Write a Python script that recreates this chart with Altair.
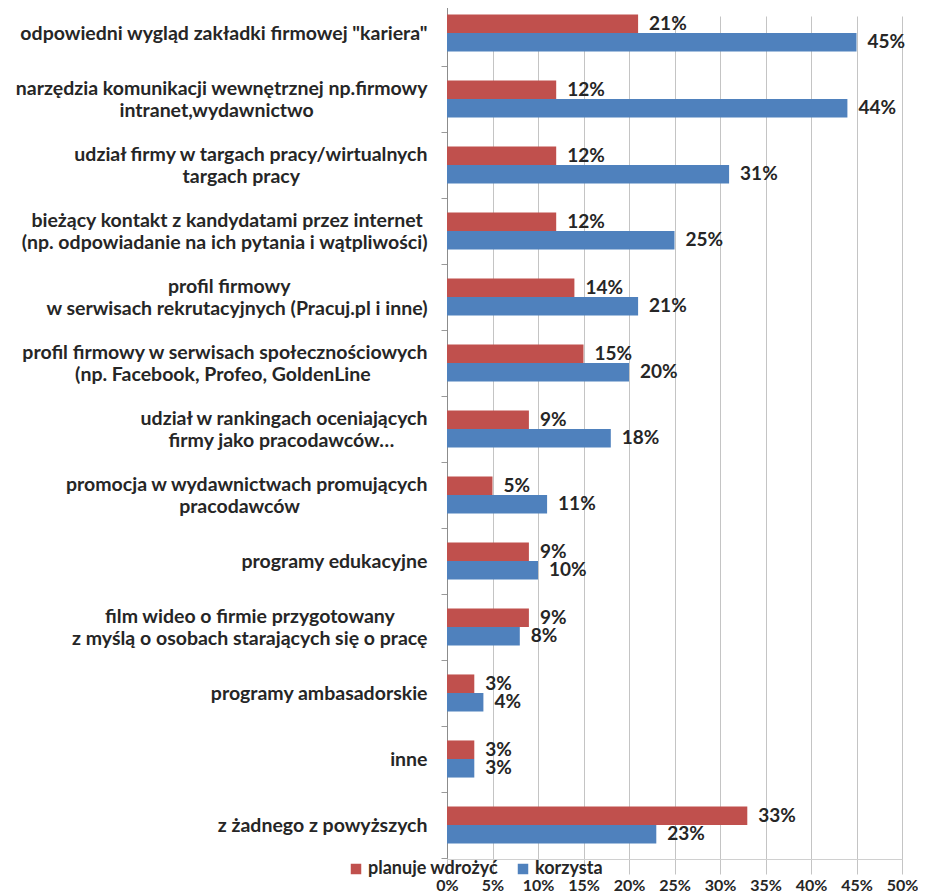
import altair as alt
import pandas as pd

# ---- data ----
categories = [
    'odpowiedni wygląd zakładki firmowej "kariera"',
    "narzędzia komunikacji wewnętrznej np.firmowy\nintranet,wydawnictwo",
    "udział firmy w targach pracy/wirtualnych\ntargach pracy",
    "bieżący kontakt z kandydatami przez internet\n(np. odpowiadanie na ich pytania i wątpliwości)",
    "profil firmowy\nw serwisach rekrutacyjnych (Pracuj.pl i inne)",
    "profil firmowy w serwisach społecznościowych\n(np. Facebook, Profeo, GoldenLine",
    "udział w rankingach oceniających\nfirmy jako pracodawców…",
    "promocja w wydawnictwach promujących\npracodawców",
    "programy edukacyjne",
    "film wideo o firmie przygotowany\nz myślą o osobach starających się o pracę",
    "programy ambasadorskie",
    "inne",
    "z żadnego z powyższych",
]
planuje = [21, 12, 12, 12, 14, 15, 9, 5, 9, 9, 3, 3, 33]
korzysta = [45, 44, 31, 25, 21, 20, 18, 11, 10, 8, 4, 3, 23]
series = ["planuje wdrożyć", "korzysta"]
x_ticks = [0, 5, 10, 15, 20, 25, 30, 35, 40, 45, 50]

# ---- style ----
FONT = "Lato"
FS_Y = 19.5
FS_V = 19
TXT = "#262626"
RED = "#C0504D"
BLUE = "#4F81BD"

# rough text-width estimate (em) so that wrapped label lines look centred
W = {" ": 0.193, "i": 0.25, "j": 0.25, "l": 0.25, ".": 0.24, ",": 0.24, "f": 0.33,
     "t": 0.36, "r": 0.37, "(": 0.3, ")": 0.3, "/": 0.37, '"': 0.4, "m": 0.84,
     "w": 0.78, "s": 0.43, "z": 0.45, "ż": 0.45, "c": 0.46, "ć": 0.46, "y": 0.51,
     "k": 0.52, "g": 0.5, "a": 0.51, "ą": 0.51, "…": 0.8}
NBSP_W = 0.222


def est(s):
    return sum(W.get(ch, 0.65 if ch.isupper() else 0.53) for ch in s)


def centre_lines(label):
    lines = label.split("\n")
    if len(lines) == 1:
        return label
    m = max(est(l) for l in lines)
    out = []
    for l in lines:
        n = int(round((m - est(l)) / 2 / NBSP_W))
        # trailing no-break spaces, closed by a zero-width space so they survive trimming
        out.append(l + ("\u00a0" * n + "\u200b" if n else ""))
    return "\n".join(out)


cat_labels = [centre_lines(c) for c in categories]

rows = []
for c, p, k in zip(cat_labels, planuje, korzysta):
    rows.append({"cat": c, "series": series[0], "value": p})
    rows.append({"cat": c, "series": series[1], "value": k})
df = pd.DataFrame(rows)

y_enc = alt.Y(
    "cat:N",
    sort=cat_labels,
    scale=alt.Scale(range=[-15, 843], paddingInner=0, paddingOuter=0),
    axis=alt.Axis(
        title=None,
        labelExpr="split(datum.label, '\\n')",
        labelFont=FONT,
        labelFontSize=FS_Y,
        labelFontWeight="bold",
        labelColor=TXT,
        labelLineHeight=22,
        labelLimit=0,
        labelPadding=14,
        labelOffset={"condition": {"test": "indexof(datum.label, '\\n') >= 0",
                                   "value": -11}, "value": 0},
        tickBand="extent",
        tickSize=6,
        tickColor="#9a9a9a",
        domainColor="#8c8c8c",
        grid=False,
    ),
)
yoff = alt.YOffset("series:N", sort=series,
                   scale=alt.Scale(paddingOuter=0.78, paddingInner=0))
x_enc = alt.X(
    "value:Q",
    scale=alt.Scale(domain=[0, 50], nice=False),
    axis=alt.Axis(
        title=None,
        values=x_ticks,
        labelExpr="datum.value + '%'",
        labelFont=FONT,
        labelFontSize=16,
        labelFontWeight="bold",
        labelColor=TXT,
        labelPadding=18,
        labelFlush=False,
        ticks=False,
        domainColor="#d0d0d0",
        grid=True,
        gridColor="#c4c4c4",
        gridWidth=1,
    ),
)

bars = alt.Chart(df).mark_bar().encode(
    x=x_enc,
    y=y_enc,
    yOffset=yoff,
    color=alt.Color(
        "series:N",
        scale=alt.Scale(domain=series, range=[RED, BLUE]),
        legend=alt.Legend(
            title=None,
            orient="none",
            legendX=-100,
            legendY=845,
            direction="horizontal",
            symbolType="square",
            symbolSize=110,
            symbolStrokeWidth=0,
            labelFont=FONT,
            labelFontSize=18,
            labelFontWeight="bold",
            labelColor=TXT,
            labelOffset=3,
            columnPadding=16,
        ),
    ),
)

labels = alt.Chart(df).transform_calculate(
    label="datum.value + '%'"
).mark_text(
    align="left", baseline="middle", dx=11, font=FONT, fontSize=FS_V,
    fontWeight="bold", color=TXT,
).encode(x=x_enc, y=y_enc, yOffset=yoff, text="label:N")

chart = alt.layer(bars, labels).properties(
    width=455,
    height=844,
    autosize=alt.AutoSizeParams(type="none"),
    padding={"left": 439, "top": 7, "right": 16, "bottom": 38},
    background="white",
).configure_view(strokeWidth=0)

chart.save("out.html", embed_options={"renderer": "svg", "actions": False})
